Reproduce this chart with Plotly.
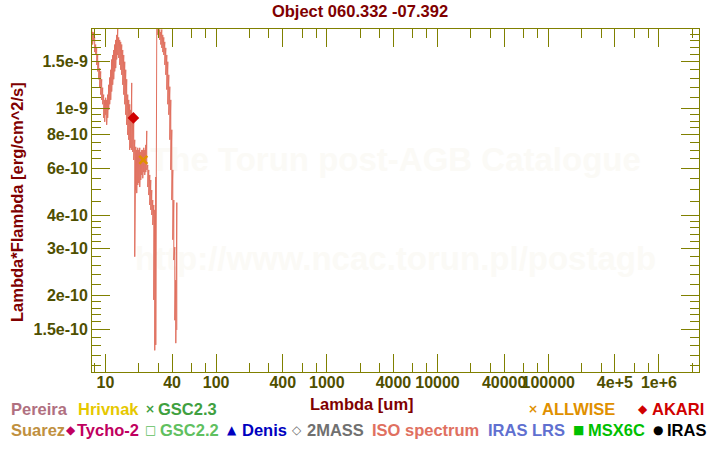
import plotly.graph_objects as go

W, H = 720, 450
ML, MR, MT, MB = 92, 21, 29, 78

# ISO spectrum (um, erg/cm^2/s): upper and lower envelope of the noisy spectrum
iso_wl = [7.35, 7.52, 7.67, 7.84, 8.00, 8.17, 8.34, 8.52, 8.70, 8.88, 9.07, 9.26, 9.45, 9.65, 9.86,
          10.06, 10.27, 10.49, 10.71, 10.94, 11.17, 11.40, 11.64, 11.89, 12.14, 12.39, 12.65,
          12.92, 13.19, 13.47, 13.75, 14.04, 14.34, 14.64, 14.95, 15.26, 15.58, 15.91, 16.25,
          16.59, 16.94, 17.29, 17.66, 18.03, 18.41, 18.80, 19.19, 19.60, 20.01, 20.43, 20.86,
          21.30, 21.75, 22.21, 22.67, 23.15, 23.64, 24.13, 24.64, 25.16, 25.69, 26.23, 26.78,
          27.35, 27.92, 28.51, 29.11, 29.72, 30.35, 30.99, 31.64, 32.31, 32.99, 33.68, 34.39,
          35.12, 35.86, 36.61, 37.38, 38.17, 38.97, 39.80, 40.63, 41.49, 42.36, 43.26, 44.17]
iso_hi = [20.0e-10, 19.8e-10, 19.4e-10, 19.3e-10, 18.5e-10, 17.4e-10, 16.9e-10, 15.9e-10, 15.0e-10,
          14.2e-10, 13.8e-10, 12.9e-10, 12.0e-10, 11.3e-10, 10.8e-10, 11.0e-10, 10.8e-10,
          11.3e-10, 12.3e-10, 13.1e-10, 14.0e-10, 15.3e-10, 15.9e-10, 16.6e-10, 17.4e-10,
          18.1e-10, 18.9e-10, 19.9e-10, 18.5e-10, 18.1e-10, 17.8e-10, 17.4e-10, 16.6e-10,
          15.9e-10, 15.0e-10, 14.0e-10, 12.9e-10, 11.3e-10, 10.8e-10, 10.4e-10, 9.91e-10,
          12.5e-10, 9.5e-10, 9.09e-10, 7.66e-10, 7.21e-10, 7.02e-10, 7.15e-10, 7.02e-10,
          7.15e-10, 6.9e-10, 7.02e-10, 7.02e-10, 7.15e-10, 7.02e-10, 7.33e-10, 8.27e-10,
          6.17e-10, 5.91e-10, 5.66e-10, 5.42e-10, 4.97e-10, 4.56e-10, 4.37e-10, 4.19e-10,
          5.56e-10, 21.2e-10, 21.5e-10, 21.0e-10, 19.8e-10, 19.4e-10, 19.8e-10, 18.9e-10,
          18.5e-10, 17.8e-10, 16.9e-10, 15.9e-10, 15.0e-10, 13.4e-10, 12.1e-10, 10.8e-10,
          8.35e-10, 5.91e-10, 4.56e-10, 3.04e-10, 2.29e-10, 4.46e-10]
iso_lo = [18.5e-10, 17.8e-10, 17.4e-10, 18.1e-10, 16.3e-10, 15.9e-10, 14.6e-10, 13.8e-10, 12.9e-10,
          12.0e-10, 11.3e-10, 10.8e-10, 10.4e-10, 9.25e-10, 8.94e-10, 9.5e-10, 8.71e-10,
          9.25e-10, 9.91e-10, 10.4e-10, 10.8e-10, 11.6e-10, 12.3e-10, 12.9e-10, 13.8e-10,
          14.2e-10, 15.3e-10, 15.9e-10, 15.5e-10, 14.6e-10, 14.0e-10, 13.4e-10, 12.3e-10,
          11.3e-10, 10.4e-10, 9.5e-10, 8.71e-10, 7.99e-10, 7.66e-10, 7.02e-10, 7.15e-10,
          7.02e-10, 6.9e-10, 6.44e-10, 2.80e-10, 4.97e-10, 4.84e-10, 5.19e-10, 5.28e-10,
          5.10e-10, 5.42e-10, 5.66e-10, 5.5e-10, 5.8e-10, 5.66e-10, 5.8e-10, 5.91e-10,
          5.10e-10, 4.76e-10, 4.37e-10, 4.19e-10, 4.01e-10, 3.68e-10, 1.93e-10, 1.25e-10,
          1.31e-10, 20.0e-10, 18.9e-10, 18.5e-10, 18.1e-10, 17.4e-10, 16.9e-10, 16.3e-10,
          15.9e-10, 14.6e-10, 13.4e-10, 11.8e-10, 10.4e-10, 9.5e-10, 7.66e-10, 5.91e-10,
          4.56e-10, 3.24e-10, 2.72e-10, 1.62e-10, 1.33e-10, 1.49e-10]

akari_wl = [17.9]
akari_f = [9.25e-10]
allwise_wl = [22.0]
allwise_f = [6.44e-10]

x_major = [10, 40, 100, 400, 1000, 4000, 1e4, 4e4, 1e5, 4e5, 1e6]
x_major_text = ["10", "40", "100", "400", "1000", "4000", "10000", "40000", "100000", "4e+5", "1e+6"]
x_minor = [8, 20, 30, 60, 80, 200, 300, 600, 800, 2000, 3000, 6000, 8000, 2e4, 3e4, 6e4, 8e4,
           2e5, 3e5, 6e5, 8e5, 2e6]
y_major = [1.5e-9, 1e-9, 8e-10, 6e-10, 4e-10, 3e-10, 2e-10, 1.5e-10]
y_major_text = ["1.5e-9", "1e-9", "8e-10", "6e-10", "4e-10", "3e-10", "2e-10", "1.5e-10"]
y_minor = [1.9e-9, 1.8e-9, 1.7e-9, 1.6e-9, 1.4e-9, 1.3e-9, 1.2e-9, 1.1e-9,
           9.5e-10, 9e-10, 8.5e-10, 7.5e-10, 7e-10, 6.5e-10, 5.5e-10, 5e-10, 4.5e-10,
           3.8e-10, 3.6e-10, 3.4e-10, 3.2e-10, 2.8e-10, 2.6e-10, 2.4e-10, 2.2e-10,
           1.9e-10, 1.8e-10, 1.7e-10, 1.6e-10, 1.4e-10, 1.3e-10, 1.2e-10, 1.1e-10]

x_range_log = [0.879, 6.362]
y_range_log = [-9.984, -8.7015]

# legend entries: (symbol, symbol colour, symbol centre px, text, text colour, text left px, row y px)
legend_items = [
    (None, None, None, "Pereira", "#B07080", 10, 409),
    (None, None, None, "Hrivnak", "#E6C800", 77, 409),
    ("×", "#40A040", 149.5, "GSC2.3", "#40A040", 157, 409),
    ("×", "#E09000", 533, "ALLWISE", "#E09000", 541, 409),
    ("◆", "#D00000", 642.5, "AKARI", "#D00000", 651, 409),
    (None, None, None, "Suarez", "#C09040", 10, 430),
    ("◆", "#C00060", 70.5, "Tycho-2", "#C00060", 76, 430),
    ("□", "#60C060", 150, "GSC2.2", "#60C060", 159, 430),
    ("▲", "#0000C0", 232, "Denis", "#0000C0", 241, 430),
    ("◇", "#707070", 297, "2MASS", "#707070", 306, 430),
    (None, None, None, "ISO spectrum", "#E07060", 371, 430),
    (None, None, None, "IRAS LRS", "#6070D0", 487, 430),
    ("■", "#00C000", 578, "MSX6C", "#00C000", 587, 430),
    ("●", "#000000", 658, "IRAS", "#000000", 666, 430),
]

FONT = "Liberation Sans, Arial, sans-serif"
OLIVE = "#808000"
LABEL = "#4F4F00"
MAROON = "#800000"
FS = 16.5
TFS = 16

PW = W - ML - MR
PH = H - MT - MB


def px_x(p):
    return (p - ML) / PW


def px_y(p):
    return (H - MB - p) / PH


def xdata(frac):
    return 10 ** (x_range_log[0] + frac * (x_range_log[1] - x_range_log[0]))


def ydata(frac):
    return 10 ** (y_range_log[0] + frac * (y_range_log[1] - y_range_log[0]))


fig = go.Figure()

# faint watermark (drawn first so it lies under the spectrum)
fig.add_trace(go.Scatter(
    x=[xdata(0.5), xdata(0.5)], y=[ydata(0.6095), ydata(0.322)],
    mode="text", text=["The Torun post-AGB Catalogue", "http://www.ncac.torun.pl/postagb"],
    textposition="middle center",
    textfont=dict(family=FONT, size=33, color="#FBFAF6", weight="bold"),
    hoverinfo="skip", cliponaxis=False))

sx, sy = [], []
for w, hi, lo in zip(iso_wl, iso_hi, iso_lo):
    sx += [w, w]
    sy += [hi, lo]

fig.add_trace(go.Scatter(x=sx, y=sy, mode="lines",
                         line=dict(color="#E0705F", width=1), name="ISO spectrum"))
fig.add_trace(go.Scatter(x=akari_wl, y=akari_f, mode="markers",
                         marker=dict(symbol="diamond", size=9, color="#D00000"), name="AKARI"))
fig.add_trace(go.Scatter(x=allwise_wl, y=allwise_f, mode="markers",
                         marker=dict(symbol="x-thin", size=8, color="#E09000",
                                     line=dict(color="#E09000", width=2.5)), name="ALLWISE"))

axis_common = dict(
    showgrid=False, zeroline=False, showline=True, linecolor=OLIVE, linewidth=1,
    mirror="allticks", ticks="inside", ticklen=18, tickwidth=1, tickcolor=OLIVE,
    tickfont=dict(family=FONT, size=TFS, color=LABEL, weight="bold"),
    tickmode="array", tickangle=0,
)

fig.update_xaxes(type="log", range=x_range_log, tickvals=x_major, ticktext=x_major_text,
                 ticklabelstandoff=-4,
                 minor=dict(tickmode="array", tickvals=x_minor, ticks="inside", ticklen=9,
                            tickwidth=1, tickcolor=OLIVE, showgrid=False),
                 **axis_common)
fig.update_yaxes(type="log", range=y_range_log, tickvals=y_major, ticktext=y_major_text,
                 minor=dict(tickmode="array", tickvals=y_minor, ticks="inside", ticklen=9,
                            tickwidth=1, tickcolor=OLIVE, showgrid=False),
                 **axis_common)

annotations = []
# axis titles
annotations.append(dict(text="Lambda [um]", x=px_x(361.5), y=px_y(404), xref="paper", yref="paper",
                        xanchor="center", yanchor="middle", showarrow=False,
                        font=dict(family=FONT, size=FS, color=MAROON, weight="bold")))
annotations.append(dict(text="Lambda*Flambda [erg/cm^2/s]", x=px_x(17), y=px_y(202),
                        xref="paper", yref="paper", textangle=-90,
                        xanchor="center", yanchor="middle", showarrow=False,
                        font=dict(family=FONT, size=FS, color=MAROON, weight="bold")))

for sym, scol, sxp, txt, tcol, txp, ryp in legend_items:
    if sym is not None:
        annotations.append(dict(text=sym, x=px_x(sxp), y=px_y(ryp), xref="paper", yref="paper",
                                xanchor="center", yanchor="middle", showarrow=False,
                                font=dict(family="DejaVu Sans, sans-serif", size=12, color=scol,
                                          weight="bold")))
    annotations.append(dict(text=txt, x=px_x(txp), y=px_y(ryp), xref="paper", yref="paper",
                            xanchor="left", yanchor="middle", showarrow=False, borderpad=0,
                            font=dict(family=FONT, size=FS, color=tcol, weight="bold")))

fig.update_layout(
    width=W, height=H, autosize=False,
    margin=dict(l=ML, r=MR, t=MT, b=MB, pad=0),
    paper_bgcolor="white", plot_bgcolor="white",
    showlegend=False,
    title=dict(text="Object 060.332 -07.392", x=0.5, xanchor="center", y=1 - 11 / H,
               yanchor="middle", font=dict(family=FONT, size=FS, color=MAROON, weight="bold")),
    annotations=annotations,
)

fig.write_html("out.html")
